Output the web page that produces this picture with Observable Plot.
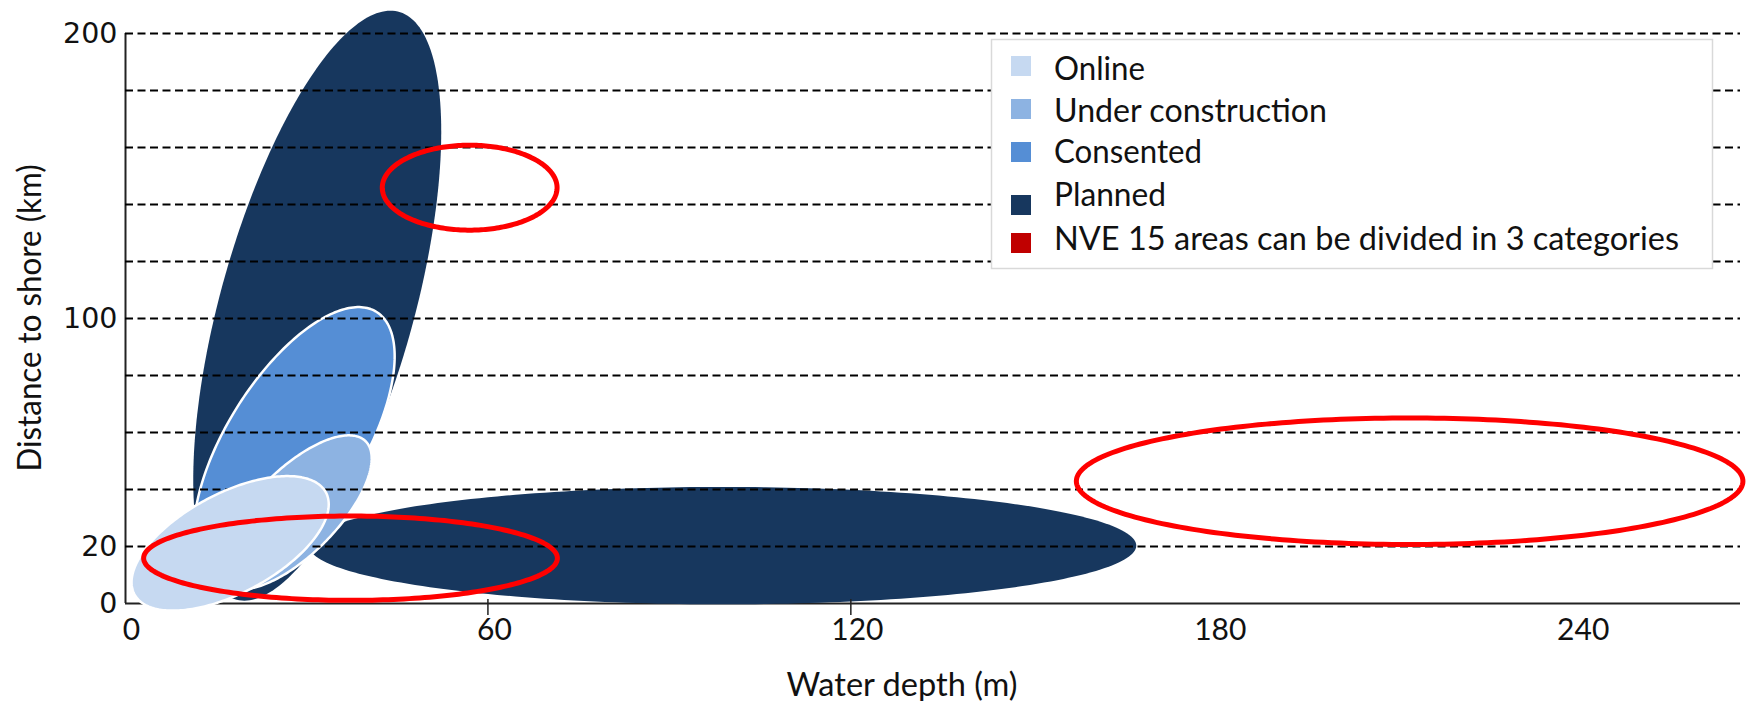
<!DOCTYPE html>
<html><head><meta charset="utf-8">
<script src="https://cdn.jsdelivr.net/npm/d3@7"></script>
<script src="https://cdn.jsdelivr.net/npm/@observablehq/plot@0.6"></script>
<style>
html,body{margin:0;padding:0;background:#fff;}
#chart{width:1750px;height:701px;}
</style></head><body><div id="chart"></div>
<script>
// ---- legend / categories
const statusNames = ["Online", "Under construction", "Consented", "Planned", "NVE 15 areas can be divided in 3 categories"];
const statusColors = ["#c6d9f1", "#8db3e2", "#558ed5", "#17375e", "#c00000"];

// ---- wind-farm zones (water depth in m, distance to shore in km)
const zoneStatus    = ["Planned", "Planned", "Consented", "Under construction", "Online"];
const zoneDepthMid  = [31.7, 98.7, 27.9, 28.1, 17.3];
const zoneDepthHalf = [20.5, 68.4, 16.6, 12.6, 16.3];
const zoneDistMid   = [104.5, 20.3, 56.0, 32.0, 21.1];
const zoneDistHalf  = [103.5, 20.6, 48.0, 27.0, 23.6];
const zoneTilt      = [0.59, 0.0, 0.64, 0.70, 0.58];

// ---- NVE areas (3 categories)
const nveDepthMid  = [56.9, 37.2, 212.3];
const nveDepthHalf = [14.45, 34.2, 55.1];
const nveDistMid   = [145.9, 15.9, 42.9];
const nveDistHalf  = [14.9, 14.8, 22.2];

// ---- axes
const xTicks = [0, 60, 120, 180, 240];
const xTickMarks = [60, 120];
const yTicks = [0, 20, 100, 200];
const yGrid = [20, 40, 60, 80, 100, 120, 140, 160, 180, 200];
const xTitle = "Water depth (m)";
const yTitle = "Distance to shore (km)";

const colorOf = name => statusColors[statusNames.indexOf(name)];

// outline of an ellipse given centre, half-ranges and correlation (tilt)
function outline(cx, sx, cy, sy, r, n = 240) {
  const s = Math.sqrt(1 - r * r);
  return d3.range(n).map(k => {
    const t = 2 * Math.PI * k / n;
    return {x: cx + sx * Math.cos(t), y: cy + sy * (r * Math.cos(t) + s * Math.sin(t))};
  });
}
const zoneMark = i => Plot.line(
  outline(zoneDepthMid[i], zoneDepthHalf[i], zoneDistMid[i], zoneDistHalf[i], zoneTilt[i]),
  {x: "x", y: "y", curve: "linear-closed", fill: colorOf(zoneStatus[i]),
   stroke: zoneStatus[i] === "Planned" ? "none" : "white", strokeWidth: 2.5});
const nveMark = i => Plot.line(
  outline(nveDepthMid[i], nveDepthHalf[i], nveDistMid[i], nveDistHalf[i], 0),
  {x: "x", y: "y", curve: "linear-closed", fill: "none", stroke: "#ff0000", strokeWidth: 5});

const plot = Plot.plot({
  width: 1750, height: 701,
  marginLeft: 125, marginRight: 10, marginTop: 33, marginBottom: 98,
  style: {background: "white", overflow: "visible"},
  x: {domain: [0, 267]},
  y: {domain: [0, 200]},
  marks: [
    Plot.ruleX([0], {stroke: "#222", strokeWidth: 2}),
    Plot.ruleY([0], {stroke: "#222", strokeWidth: 2}),
    zoneMark(0), zoneMark(1), zoneMark(2), zoneMark(3),
    Plot.ruleY(yGrid, {stroke: "#000", strokeWidth: 1.8, strokeDasharray: "8,4.5"}),
    zoneMark(4),
    nveMark(0), nveMark(1), nveMark(2),
    Plot.axisY({ticks: yTicks, tickSize: 0, tickPadding: 8, fontSize: 28.5, fontFamily: "DejaVu Sans", label: null, fill: "#111"}),
    Plot.axisX({ticks: xTicks, tickSize: 0, tickPadding: 15, dx: 6, fontSize: 30, fontFamily: "Lato", label: null, fill: "#111"})
  ]
});
document.getElementById("chart").appendChild(plot);

const svg = d3.select(plot);
const X = v => plot.scale("x").apply(v);
const Y = v => plot.scale("y").apply(v);

// small tick marks on x axis
svg.append("g").selectAll("line").data(xTickMarks).join("line")
  .attr("x1", d => X(d)).attr("x2", d => X(d))
  .attr("y1", Y(0) - 4).attr("y2", Y(0) + 12)
  .attr("stroke", "#222").attr("stroke-width", 1.5);

// axis titles
svg.append("text").text(xTitle)
  .attr("x", 902).attr("y", 696).attr("text-anchor", "middle")
  .attr("font-family", "Lato").attr("font-size", 33).attr("fill", "#111")
  .attr("textLength", 231).attr("lengthAdjust", "spacingAndGlyphs");
svg.append("text").text(yTitle)
  .attr("transform", "translate(41,318) rotate(-90)").attr("text-anchor", "middle")
  .attr("font-family", "Lato").attr("font-size", 33).attr("fill", "#111")
  .attr("textLength", 307).attr("lengthAdjust", "spacingAndGlyphs");

// legend
const lg = svg.append("g").attr("text-anchor", "start");
lg.append("rect").attr("x", 991.5).attr("y", 39.5).attr("width", 721).attr("height", 229)
  .attr("fill", "white").attr("stroke", "#d9d9d9").attr("stroke-width", 1.5);
const swatchY = [56, 99, 142, 195, 233];
const textY = [80, 121.7, 163.3, 206, 250];
const textW = [91, 273, 148, 112, 625];
statusNames.forEach((name, i) => {
  lg.append("rect").attr("x", 1011).attr("y", swatchY[i]).attr("width", 20).attr("height", 20)
    .attr("fill", statusColors[i]);
  lg.append("text").text(name).attr("x", 1054).attr("y", textY[i])
    .attr("text-anchor", "start")
    .attr("font-family", "Lato").attr("font-size", 32).attr("fill", "#111")
    .attr("textLength", textW[i]).attr("lengthAdjust", "spacingAndGlyphs");
});
</script>
</body></html>
